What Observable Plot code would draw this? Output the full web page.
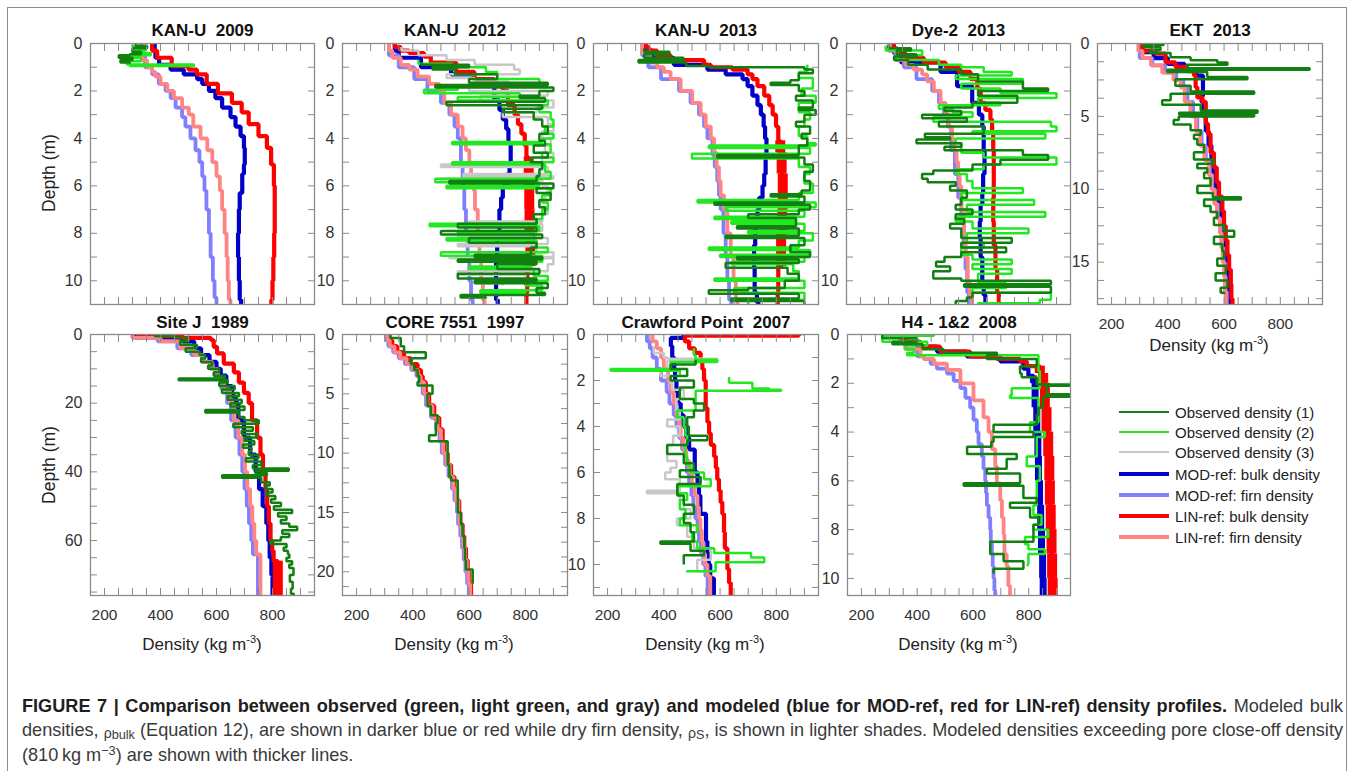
<!DOCTYPE html>
<html><head><meta charset="utf-8">
<script src="https://cdn.jsdelivr.net/npm/d3@7"></script>
<script src="https://cdn.jsdelivr.net/npm/@observablehq/plot@0.6"></script>
<style>
body{margin:0;background:#fff;font-family:"Liberation Sans",Arial,sans-serif;}
#root{position:relative;width:1360px;height:771px;overflow:hidden;background:#fff;}
.box{position:absolute;left:7px;top:7px;width:1338px;height:820px;border:1.5px solid #8c8c8c;}
.pnl{position:absolute;}
.ylab{position:absolute;font-size:17.5px;color:#222;transform:translate(-50%,-50%) rotate(-90deg);white-space:nowrap;}
.xlab{position:absolute;font-size:17px;color:#222;transform:translate(-50%,-50%);white-space:nowrap;}
.xlab sup{font-size:11px;vertical-align:7px;line-height:0;}
.leg{position:absolute;left:1119px;font-size:15px;color:#222;white-space:nowrap;}
.leg .ln{position:absolute;left:0;width:50px;}
.leg .tx{position:absolute;left:56px;transform:translateY(-50%);}
.cap{position:absolute;left:22px;font-size:16px;line-height:25px;color:#3a3a3a;white-space:nowrap;}
.cap b{color:#1e1e1e;}
.cap sub{font-size:0.7em;vertical-align:-0.25em;line-height:0;}
.cap sup{font-size:0.7em;vertical-align:0.45em;line-height:0;}
.rho{font-size:0.78em;vertical-align:-0.12em;}
</style></head>
<body><div id="root"><div class="box"></div></div>
<script>
// ---------------- data ----------------
const titles = ["KAN-U  2009","KAN-U  2012","KAN-U  2013","Dye-2  2013","EKT  2013","Site J  1989","CORE 7551  1997","Crawford Point  2007","H4 - 1&2  2008"];
const densityTicks = [200,250,300,350,400,450,500,550,600,650,700,750,800,850,900];
const densityLabels = [200,400,600,800];
const depthTicks11 = [0,1,2,3,4,5,6,7,8,9,10,11];
const depthLabels10 = [0,2,4,6,8,10];
const ektTicks = [0,1.25,2.5,3.75,5,6.25,7.5,8.75,10,11.25,12.5,13.75,15,16.25,17.5];
const ektLabels = [0,5,10,15];
const siteJTicks = [0,5,10,15,20,25,30,35,40,45,50,55,60,65,70,75];
const siteJLabels = [0,20,40,60];
const coreTicks = [0,1.25,2.5,3.75,5,6.25,7.5,8.75,10,11.25,12.5,13.75,15,16.25,17.5,18.75,20,21.25];
const coreLabels = [0,5,10,15,20];
const legendLabels = ["Observed density (1)","Observed density (2)","Observed density (3)","MOD-ref: bulk density","MOD-ref: firn density","LIN-ref: bulk density","LIN-ref: firn density"];

// each profile: [depth (m), density (kg m-3)] layer tops
const k09_modBulk = [[0,379],[0.3,382],[0.6,395],[0.9,436],[1.1,483],[1.3,531],[1.5,549],[1.7,573],[2.0,596],[2.3,620],[2.7,650],[3.1,668],[3.5,686],[3.9,698],[4.4,701],[5.1,698],[5.5,692],[6.3,683],[7.0,680],[8.0,677],[9.0,680],[10.0,683],[10.8,688]];
const k09_modFirn = [[0,330],[0.5,345],[1.0,370],[1.3,394],[1.7,418],[2.0,436],[2.3,454],[2.7,477],[3.1,489],[3.5,507],[4.0,525],[4.5,539],[5.0,549],[5.6,557],[6.2,564],[7.0,573],[8.0,579],[9.0,587],[10.0,593],[10.7,600]];
const k09_linBulk = [[0,370],[0.3,388],[0.6,440],[0.95,500],[1.1,530],[1.3,565],[1.7,605],[2.1,655],[2.5,690],[2.9,715],[3.4,750],[3.9,780],[4.4,795],[5.1,805],[6.0,808],[7.0,808],[8.0,806],[9.0,803],[10.0,800],[10.8,796]];
const k09_linFirn = [[0,328],[0.3,335],[0.7,352],[1.0,370],[1.2,382],[1.4,400],[1.7,424],[2.0,448],[2.3,477],[2.7,501],[3.0,517],[3.5,543],[4.0,567],[4.5,585],[5.0,600],[5.6,612],[6.2,620],[7.0,629],[8.0,636],[9.0,640],[10.0,644],[10.8,650]];
const k09_obs1 = [[0,311],[0.1,352],[0.2,300],[0.35,330],[0.45,290],[0.5,251],[0.6,300],[0.7,257],[0.8,290],[0.85,290]];
const k09_obs2 = [[0.05,300],[0.15,345],[0.3,300],[0.4,365],[0.5,270],[0.6,330],[0.75,280],[0.88,519],[0.95,290],[0.97,290]];

const k12_modBulk = [[0,336],[0.3,350],[0.6,429],[1.0,536],[1.3,619],[1.5,685],[1.8,690],[2.4,708],[2.8,720],[3.2,732],[3.6,740],[4.2,748],[5.0,744],[5.5,736],[6.0,720],[6.5,714],[7.0,708],[8.0,700],[9.0,696],[10.0,696],[10.8,702]];
const k12_modFirn = [[0,315],[0.5,350],[1.0,405],[1.5,452],[2.0,500],[2.5,530],[3.0,548],[3.5,560],[4.0,571],[5.0,577],[6.0,583],[7.0,589],[8.0,595],[9.0,601],[10.0,607],[10.8,613]];
const k12_linBulk = [[0,336],[0.15,357],[0.3,387],[0.4,440],[0.55,464],[0.8,554],[1.2,619],[1.5,690],[1.75,720],[2.0,738],[2.6,762],[3.0,774],[3.4,786],[3.8,798],[4.3,804],[4.8,812],[5.5,814],[7.0,815],[8.0,818],[9.4,807],[10.5,804]];
const k12_linFirn = [[0,315],[0.3,327],[0.6,357],[0.9,387],[1.1,417],[1.4,458],[1.7,494],[2.0,512],[2.5,536],[3.0,560],[3.5,577],[4.0,589],[4.5,601],[5.0,607],[5.6,617],[6.2,621],[7.0,631],[8.0,637],[9.0,643],[10.0,649],[10.8,655]];
const k12_obs1 = [[0.8,430],[0.9,600],[1.0,470],[1.1,550],[1.3,700],[1.5,600],[1.65,880],[1.75,480],[1.85,900],[2.0,850],[2.2,780],[2.3,870],[2.45,520],[2.6,860],[2.75,720],[2.9,830],[3.2,860],[3.5,880],[3.8,850],[4.1,870],[4.3,830],[4.6,880],[4.8,820],[5.0,860],[5.3,850],[5.6,840],[5.8,530],[5.9,900],[6.1,840],[6.3,890],[6.6,850],[6.9,870],[7.2,830],[7.4,840],[7.6,560],[7.75,840],[7.9,500],[8.05,860],[8.2,600],[8.4,840],[8.6,820],[8.9,620],[9.0,860],[9.1,560],[9.2,840],[9.3,700],[9.5,850],[9.7,560],[9.9,840],[10.0,620],[10.1,880],[10.3,840],[10.5,870],[10.6,570],[10.7,660],[10.75,660]];
const k12_obs2 = [[0.7,420],[0.85,540],[1.0,660],[1.2,700],[1.5,850],[1.7,800],[1.8,560],[1.95,440],[2.1,780],[2.25,560],[2.4,880],[2.6,850],[2.9,890],[3.2,900],[3.5,870],[3.8,900],[4.0,860],[4.15,540],[4.25,890],[4.6,860],[4.8,900],[5.0,540],[5.1,870],[5.4,890],[5.7,480],[5.85,850],[6.0,520],[6.1,890],[6.4,860],[6.7,880],[7.0,860],[7.4,840],[7.6,460],[7.7,850],[7.9,560],[8.0,830],[8.2,520],[8.3,840],[8.6,880],[8.8,500],[8.95,860],[9.2,820],[9.4,600],[9.5,830],[9.8,880],[10.0,800],[10.2,860],[10.4,640],[10.5,800],[10.6,800]];
const k12_obs3 = [[0.15,360],[0.3,420],[0.5,520],[0.7,620],[0.9,760],[1.1,780],[1.3,520],[1.45,620],[1.6,740],[1.8,600],[2.0,880],[2.2,640],[2.4,900],[2.7,840],[2.9,720],[3.1,880],[3.4,900],[3.7,860],[4.0,890],[4.3,870],[4.6,900],[4.8,860],[5.1,500],[5.2,880],[5.5,580],[5.6,900],[5.7,500],[5.75,860],[6.0,880],[6.3,870],[6.6,850],[6.9,880],[7.2,860],[7.5,600],[7.6,860],[7.9,840],[8.1,560],[8.2,880],[8.45,560],[8.55,840],[8.8,900],[9.0,530],[9.05,900],[9.3,880],[9.6,560],[9.75,800],[10.0,620],[10.1,720],[10.2,720]];

const k13_modBulk = [[0,335],[0.3,360],[0.6,436],[0.9,555],[1.1,620],[1.3,680],[1.5,698],[1.8,715],[2.2,733],[2.6,745],[3.0,755],[3.5,760],[4.0,765],[4.7,762],[5.5,757],[6.0,751],[6.5,739],[7.0,733],[7.7,725],[8.5,721],[9.5,723],[10.5,731],[10.9,736]];
const k13_modFirn = [[0,323],[0.5,345],[1.0,390],[1.5,454],[2.0,495],[2.5,525],[3.0,543],[3.5,555],[4.0,573],[4.7,581],[5.2,590],[5.8,596],[6.4,602],[7.0,612],[8.0,620],[9.0,626],[10.0,632],[10.8,640]];
const k13_linBulk = [[0,335],[0.15,346],[0.3,376],[0.5,424],[0.7,543],[0.9,567],[1.0,644],[1.1,698],[1.3,715],[1.5,733],[1.8,757],[2.2,775],[2.6,787],[3.0,799],[3.5,807],[4.1,814],[4.6,819],[5.5,823],[7.0,821],[8.0,817],[9.4,807],[10.5,805]];
const k13_linFirn = [[0,323],[0.4,352],[0.8,376],[1.0,400],[1.2,424],[1.5,460],[2.0,501],[2.5,531],[3.0,549],[3.5,567],[4.0,579],[4.6,588],[5.2,596],[5.8,602],[6.4,614],[7.0,626],[8.0,638],[9.0,648],[10.0,656],[10.8,662]];
const k13_obs1 = [[0.2,330],[0.35,420],[0.45,330],[0.6,470],[0.7,310],[0.8,480],[0.95,560],[1.0,900],[1.1,930],[1.25,880],[1.55,850],[1.65,780],[1.75,880],[2.0,900],[2.2,870],[2.4,930],[2.7,880],[2.8,940],[3.0,900],[3.3,870],[3.5,920],[3.8,890],[4.0,910],[4.3,880],[4.7,590],[4.8,900],[5.1,930],[5.4,900],[5.8,920],[6.2,890],[6.35,780],[6.45,900],[6.7,580],[6.8,920],[7.0,880],[7.2,700],[7.35,870],[7.7,660],[7.8,880],[8.1,620],[8.2,900],[8.5,850],[8.8,920],[9.0,660],[9.1,880],[9.25,620],[9.45,840],[9.7,880],[10.0,830],[10.3,700],[10.4,560],[10.55,880],[10.75,640],[10.85,900],[11.0,900]];
const k13_obs2 = [[0.9,910],[1.2,880],[1.45,930],[1.9,890],[2.2,940],[2.5,880],[2.9,920],[3.2,900],[3.5,880],[3.9,910],[4.2,940],[4.3,560],[4.4,920],[4.65,500],[4.85,880],[5.2,920],[5.5,900],[5.9,930],[6.3,880],[6.6,520],[6.7,940],[6.9,620],[7.05,900],[7.3,580],[7.4,870],[7.5,640],[7.6,900],[7.9,700],[8.0,930],[8.3,880],[8.6,560],[8.7,920],[8.9,600],[9.0,900],[9.2,640],[9.3,860],[9.6,880],[9.9,580],[10.0,900],[10.3,650],[10.5,900],[10.8,700],[11.0,700]];

const d2_modBulk = [[0,319],[0.4,345],[0.8,486],[1.2,545],[1.8,599],[2.5,623],[3.0,635],[3.5,640],[4.5,643],[5.5,638],[6.3,635],[6.8,629],[7.5,626],[8.2,629],[9.0,635],[10.0,640],[10.6,646]];
const d2_modFirn = [[0,301],[0.3,325],[0.7,355],[1.0,400],[1.5,456],[2.0,480],[2.5,498],[3.0,512],[3.5,524],[4.5,537],[5.5,549],[6.5,560],[7.5,569],[8.5,575],[9.5,581],[10.5,587]];
const d2_linBulk = [[0,319],[0.2,331],[0.4,361],[0.6,426],[0.8,504],[1.0,551],[1.2,593],[1.5,617],[1.9,629],[2.5,646],[2.8,664],[3.2,670],[3.8,674],[4.5,676],[5.5,676],[6.5,674],[7.5,676],[8.5,682],[9.5,688],[10.5,694]];
const d2_linFirn = [[0,301],[0.3,331],[0.7,361],[0.9,390],[1.1,420],[1.3,438],[1.6,462],[2.0,486],[2.5,504],[3.0,515],[3.5,527],[4.0,533],[4.5,543],[5.0,549],[5.5,554],[6.0,560],[7.0,569],[8.0,575],[9.0,583],[10.0,590],[10.6,599]];
const d2_obs1 = [[0.05,300],[0.2,380],[0.3,330],[0.45,400],[0.55,320],[0.7,370],[0.9,440],[1.1,560],[1.3,620],[1.6,780],[1.9,870],[2.0,620],[2.2,760],[2.5,600],[2.7,500],[2.85,560],[3.0,420],[3.15,580],[3.3,480],[3.5,640],[3.8,430],[3.95,520],[4.05,400],[4.2,560],[4.35,500],[4.5,780],[4.7,870],[4.9,700],[5.1,600],[5.35,460],[5.5,420],[5.7,440],[5.85,540],[6.0,520],[6.2,580],[6.5,560],[6.8,540],[7.0,600],[7.2,540],[7.4,570],[7.6,520],[7.8,560],[8.2,740],[8.4,560],[8.6,720],[8.8,560],[9.0,500],[9.2,470],[9.4,520],[9.6,460],[9.9,560],[10.0,880],[10.15,570],[10.25,880],[10.5,600],[10.7,580],[10.85,540],[11.0,540]];
const d2_obs2 = [[0.1,290],[0.3,420],[0.5,330],[0.7,480],[0.9,560],[1.0,640],[1.2,740],[1.35,540],[1.5,780],[1.7,560],[1.9,700],[2.1,900],[2.3,620],[2.5,700],[2.6,480],[2.75,530],[2.9,600],[3.1,460],[3.3,880],[3.5,900],[3.7,600],[3.8,860],[4.0,540],[4.2,560],[4.6,640],[4.8,900],[5.1,640],[5.3,540],[5.5,580],[5.8,600],[6.1,780],[6.3,560],[6.6,820],[6.8,580],[7.1,860],[7.3,540],[7.5,600],[7.8,800],[8.0,580],[8.4,640],[8.6,560],[8.9,600],[9.1,740],[9.3,600],[9.5,740],[9.7,620],[10.1,720],[10.3,600],[10.5,880],[10.8,840],[10.95,620],[11.0,620]];

const ekt_modBulk = [[0,310],[0.6,350],[1.0,400],[1.4,460],[1.8,500],[2.2,525],[3.6,520],[4.0,528],[5.0,535],[6.0,545],[7.0,555],[8.0,562],[9.0,570],[10,580],[11,588],[12,595],[13,600],[14,606],[15,610],[16,614],[17,618]];
const ekt_modFirn = [[0,300],[1.0,345],[1.5,390],[2.0,430],[2.5,455],[3.0,470],[4.0,490],[5.0,505],[6.0,520],[7.0,535],[8.0,548],[9.0,558],[10,568],[11,578],[12,588],[13,593],[14,598],[15,603],[16,606],[17,610]];
const ekt_linBulk = [[0,308],[0.5,356],[0.7,392],[1.3,427],[1.6,469],[1.9,493],[2.2,499],[3.0,505],[3.7,523],[4.0,535],[5.5,543],[6.2,552],[7.5,564],[8.5,574],[9.5,582],[10.5,594],[11.5,600],[12.5,606],[13.5,612],[14.5,618],[15.5,624],[16.5,626],[17.5,630]];
const ekt_linFirn = [[0,295],[0.5,310],[1.0,340],[1.5,380],[2.0,420],[2.5,445],[3.0,460],[4.0,480],[5.0,500],[6.0,515],[7.0,530],[8.0,545],[9.0,555],[10,565],[11,575],[12,585],[13,590],[14,595],[15,600],[16,603],[17,606]];
const ekt_obs1 = [[0,385],[0.1,314],[0.25,374],[0.45,338],[0.65,410],[0.95,481],[1.15,576],[1.3,612],[1.45,469],[1.7,904],[1.8,398],[1.95,540],[2.3,683],[2.45,427],[2.9,481],[3.3,707],[3.45,410],[3.9,380],[4.2,517],[4.6,719],[4.75,440],[4.85,707],[5.0,439],[5.25,421],[5.55,481],[5.95,517],[6.25,493],[6.55,505],[6.95,529],[7.45,493],[7.95,564],[8.25,505],[8.55,540],[8.85,529],[9.25,552],[9.75,505],[10.25,560],[10.55,660],[10.7,529],[11.15,552],[11.55,576],[11.95,564],[12.45,600],[12.85,636],[13.25,564],[13.75,594],[14.25,600],[14.75,576],[15.25,606],[15.75,570],[16.25,612],[16.75,588],[17.1,600],[17.2,600]];

const sj_modBulk = [[0,310],[1,480],[2,520],[4,545],[6,575],[8,600],[10,615],[12,635],[15,655],[18,668],[20,678],[25,698],[30,720],[35,740],[40,752],[45,765],[50,778],[55,785],[60,790],[65,796],[70,800]];
const sj_modFirn = [[0,300],[1,390],[2,460],[4,510],[6,548],[8,578],[10,598],[13,618],[16,638],[20,652],[25,668],[30,682],[35,692],[40,700],[45,708],[50,716],[55,724],[60,730],[64,748]];
const sj_linBulk = [[0,320],[0.5,480],[1.0,580],[1.6,590],[3.6,602],[5.5,626],[8.5,662],[11,680],[14,698],[17,715],[20,727],[25,745],[30,757],[35,766],[40,775],[45,781],[50,787],[55,793],[60,799],[63,804],[66,819]];
const sj_linFirn = [[0,300],[1,400],[2,470],[4,520],[6,555],[8,585],[10,605],[13,628],[16,648],[20,662],[25,678],[30,692],[35,702],[40,710],[45,720],[50,728],[55,735],[60,742],[64,757]];
const sj_obs1 = [[0,380],[0.5,450],[1,500],[2,470],[3,530],[4,490],[5,540],[6,560],[7,545],[8,585],[9,570],[10,610],[11,590],[12,630],[12.8,465],[13.3,640],[14,610],[15,665],[16,620],[17,680],[18,640],[19,690],[20,650],[21,700],[22,560],[22.7,680],[24,700],[25,751],[26,660],[27,730],[28,690],[29,745],[30,700],[31,735],[32,695],[33,725],[34,715],[35,750],[36,705],[37,760],[38,730],[39,858],[39.7,740],[40.5,780],[41,620],[41.7,760],[43,790],[44,775],[45,800],[46,780],[47,810],[48,795],[49,830],[50,805],[51,870],[52,820],[53,850],[54,830],[55,860],[56,888],[57,835],[58,860],[59,830],[60,793],[61,850],[62,840],[63,855],[64,860],[65,850],[66,870],[67,860],[68,875],[70,862],[72,872],[74,866],[75.5,876],[76,876]];

const c97_modBulk = [[0,312],[0.5,322],[1.0,340],[1.5,364],[2.0,388],[2.5,412],[3.0,425],[3.5,432],[4.0,442],[5.0,455],[6.0,472],[7.0,490],[8.0,503],[9.0,509],[10,521],[11,533],[12,545],[13,554],[14,562],[15,566],[16,574],[17,580],[18,586],[19,592],[20,598],[21,604]];
const c97_modFirn = [[0,305],[0.5,313],[1.0,330],[1.5,350],[2.0,372],[2.5,395],[3.0,413],[3.5,423],[4.0,435],[5.0,447],[6.0,465],[7.0,483],[8.0,495],[9.0,503],[10,515],[11,527],[12,539],[13,548],[14,557],[15,561],[16,569],[17,575],[18,581],[19,587],[20,593],[21,599]];
const c97_linBulk = [[0,315],[0.5,327],[1.0,345],[1.5,369],[2.0,393],[2.5,417],[3.0,429],[3.5,435],[4.0,446],[5.0,458],[6.0,476],[7.0,494],[8.0,506],[9.0,512],[10,524],[11,536],[12,548],[13,557],[14,565],[15,569],[16,577],[17,583],[18,589],[19,595],[20,601],[21,607]];
const c97_linFirn = [[0,310],[0.5,318],[1.0,335],[1.5,355],[2.0,378],[2.5,400],[3.0,418],[3.5,428],[4.0,440],[5.0,452],[6.0,470],[7.0,488],[8.0,500],[9.0,508],[10,520],[11,532],[12,544],[13,553],[14,562],[15,566],[16,574],[17,580],[18,586],[19,592],[20,598],[21,604]];
const c97_obs1 = [[0,321],[0.3,357],[1.0,369],[1.5,446],[2.0,393],[2.5,405],[3.0,417],[3.5,423],[4.0,417],[4.3,470],[5.0,452],[6.0,464],[6.8,488],[7.5,482],[8.5,458],[9.0,524],[10,524],[11,530],[12,536],[12.3,560],[13.5,560],[15,571],[16,577],[17,583],[18,586],[19,589],[19.8,613],[21.0,613]];

const cp_modBulk = [[0,470],[0.15,425],[0.5,430],[1.0,437],[1.5,440],[2.0,445],[2.5,450],[3.0,460],[3.5,470],[4.0,480],[4.5,490],[5.0,510],[6.0,520],[6.5,525],[7.0,530],[7.8,550],[9.0,555],[9.5,560],[10.0,565],[10.6,578]];
const cp_modFirn = [[0,340],[0.3,350],[0.6,360],[1.0,375],[1.5,390],[2.0,410],[2.5,420],[3.0,435],[3.5,445],[4.0,455],[4.5,465],[5.0,475],[5.5,482],[6.0,490],[6.5,498],[7.0,505],[7.5,512],[8.0,520],[8.5,525],[9.0,532],[9.5,540],[10.0,548],[10.5,556]];
const cp_linBulk = [[0,880],[0.05,475],[0.3,490],[0.6,510],[0.8,531],[1.2,537],[1.5,543],[2.0,549],[3.2,555],[3.8,561],[4.3,567],[4.8,579],[5.3,585],[5.8,590],[6.3,596],[6.8,602],[7.3,608],[7.8,614],[8.6,617],[9.3,626],[10.2,632],[10.8,638]];
const cp_linFirn = [[0,360],[0.3,375],[0.6,390],[1.0,400],[1.5,415],[2.0,425],[2.5,435],[3.0,445],[3.5,455],[4.0,460],[4.5,470],[5.0,480],[5.5,490],[6.0,500],[6.5,510],[7.0,520],[7.5,525],[8.0,530],[8.5,535],[9.0,540],[9.5,545],[10.0,555],[10.5,565]];
const cp_obs1 = [[1.1,513],[1.3,424],[1.5,483],[1.8,424],[2.0,507],[2.3,457],[2.8,507],[3.0,543],[3.3,507],[3.6,483],[4.0,489],[4.4,555],[4.6,483],[4.8,412],[5.2,471],[5.6,507],[5.9,457],[6.2,531],[6.5,448],[7.0,471],[7.4,507],[7.8,471],[8.2,495],[8.6,507],[9.0,388],[9.1,495],[9.4,543],[9.6,471],[10.0,471]];
const cp_obs2 = [[0.6,507],[0.9,513],[1.1,590],[1.2,424],[1.5,211],[1.58,457],[1.75,457],[1.76,null],[1.85,632],[2.1,715],[2.35,775],[2.4,817],[2.45,513],[3.3,448],[3.6,471],[4.0,477],[4.4,483],[4.8,477],[5.3,483],[5.7,495],[6.0,543],[6.3,567],[6.6,448],[6.9,483],[7.2,457],[7.6,477],[8.0,457],[8.3,519],[8.6,501],[9.0,519],[9.3,579],[9.5,710],[9.7,757],[9.9,584],[10.3,483],[10.35,483]];
const cp_obs3 = [[0.5,364],[0.8,400],[1.0,412],[1.05,590],[1.15,412],[1.5,388],[1.8,424],[2.1,430],[2.4,471],[2.8,445],[3.3,457],[3.7,412],[4.0,457],[4.4,433],[4.8,412],[5.2,412],[5.5,445],[5.8,424],[6.0,405],[6.3,457],[6.8,340],[6.9,457],[7.2,471],[7.6,495],[8.0,447],[8.3,483],[8.8,507],[9.3,567],[9.8,519],[10.3,555],[10.35,555]];

const h4_modBulk = [[0,346],[0.3,400],[0.5,471],[0.7,578],[0.9,698],[1.1,781],[1.4,799],[1.7,817],[2.0,823],[3.0,829],[4.0,833],[5.0,835],[6.0,839],[7.0,843],[8.0,846],[9.0,850],[10.0,852]];
const h4_modFirn = [[0,340],[0.3,358],[0.6,400],[0.9,424],[1.0,448],[1.2,471],[1.4,507],[1.6,531],[1.9,555],[2.2,573],[2.6,590],[3.0,602],[3.5,614],[4.0,620],[4.5,632],[5.0,638],[5.5,644],[6.0,647],[6.5,650],[7.0,656],[7.5,662],[8.0,664],[8.5,668],[9.0,671],[9.5,674],[10.0,677],[10.5,680]];
const h4_linBulk = [[0,346],[0.1,358],[0.3,412],[0.5,483],[0.7,590],[0.9,686],[1.0,769],[1.1,793],[1.3,840],[1.6,852],[2.0,858],[3.0,864],[4.0,870],[5.0,874],[6.0,876],[7.0,879],[8.0,882],[9.0,884],[10.0,886]];
const h4_linFirn = [[0,340],[0.3,358],[0.6,412],[0.9,424],[1.0,460],[1.2,507],[1.45,555],[2.0,602],[2.7,638],[3.4,656],[4.0,668],[4.7,680],[5.4,686],[6.1,698],[6.8,704],[7.5,710],[8.2,713],[9.0,721],[9.5,727],[10.3,733]];
const h4_obs1 = [[0,275],[0.15,400],[0.3,311],[0.4,420],[0.6,495],[0.75,686],[0.85,650],[1.0,829],[1.3,769],[1.6,775],[1.75,829],[2.05,960],[2.1,864],[2.45,960],[2.55,852],[3.0,835],[3.3,829],[3.7,674],[4.0,817],[4.2,674],[4.4,666],[4.6,579],[4.9,757],[5.1,721],[5.5,650],[5.7,769],[6.1,567],[6.2,781],[6.7,829],[6.9,733],[7.1,805],[7.5,835],[7.8,817],[8.5,662],[9.0,710],[9.3,781],[9.6,674],[9.8,674]];
const h4_obs2 = [[0,460],[0.05,275],[0.3,436],[0.45,358],[0.6,388],[0.75,364],[0.85,835],[1.5,840],[2.2,739],[2.5,733],[2.6,835],[3.6,805],[4.0,858],[4.2,829],[5.0,793],[5.4,840],[6.0,829],[7.0,817],[7.4,846],[7.8,817],[8.0,870],[8.3,787],[8.6,799],[8.8,858],[9.0,799],[9.4,797],[9.5,797]];

// ---------------- styles ----------------
const C = {obs1:"#118011", obs2:"#22e822", obs3:"#c8c8c8", modBulk:"#0000c8", modFirn:"#8080ff", linBulk:"#ff0000", linFirn:"#ff8585"};
const AX = "#8a8a8a", TXT = "#333";

const panels = [
 {t:0, x:90,  y:43, w:224, h:261, yMax:11, yT:depthTicks11, yL:depthLabels10, xl:false, m:[k09_modBulk,k09_modFirn,k09_linBulk,k09_linFirn], o:[k09_obs1,k09_obs2,null]},
 {t:1, x:342, y:43, w:225, h:261, yMax:11, yT:depthTicks11, yL:depthLabels10, xl:false, m:[k12_modBulk,k12_modFirn,k12_linBulk,k12_linFirn], o:[k12_obs1,k12_obs2,k12_obs3]},
 {t:2, x:593, y:43, w:225, h:261, yMax:11, yT:depthTicks11, yL:depthLabels10, xl:false, m:[k13_modBulk,k13_modFirn,k13_linBulk,k13_linFirn], o:[k13_obs1,k13_obs2,null]},
 {t:3, x:846, y:43, w:224, h:261, yMax:11, yT:depthTicks11, yL:depthLabels10, xl:false, m:[d2_modBulk,d2_modFirn,d2_linBulk,d2_linFirn], o:[d2_obs1,d2_obs2,null]},
 {t:4, x:1097,y:43, w:225, h:261, yMax:17.9, yT:ektTicks, yL:ektLabels, xl:true, m:[ekt_modBulk,ekt_modFirn,ekt_linBulk,ekt_linFirn], o:[ekt_obs1,null,null]},
 {t:5, x:90,  y:334,w:224, h:261, yMax:76, yT:siteJTicks, yL:siteJLabels, xl:true, m:[sj_modBulk,sj_modFirn,sj_linBulk,sj_linFirn], o:[sj_obs1,null,null]},
 {t:6, x:342, y:334,w:225, h:261, yMax:22, yT:coreTicks, yL:coreLabels, xl:true, m:[c97_modBulk,c97_modFirn,c97_linBulk,c97_linFirn], o:[c97_obs1,null,null]},
 {t:7, x:593, y:334,w:225, h:261, yMax:11.35, yT:depthTicks11, yL:depthLabels10, xl:true, m:[cp_modBulk,cp_modFirn,cp_linBulk,cp_linFirn], o:[cp_obs1,cp_obs2,cp_obs3]},
 {t:8, x:847, y:334,w:223, h:261, yMax:10.7, yT:depthTicks11.slice(0,11), yL:depthLabels10, xl:true, m:[h4_modBulk,h4_modFirn,h4_linBulk,h4_linFirn], o:[h4_obs1,h4_obs2,null]}
];

const root = document.getElementById("root");
const ml=46, mr=14, mt=40, mb=66;

function renderPanel(p){
  const marks = [];
  const mstyle = [[C.modBulk,4.2,7],[C.modFirn,3.8,0],[C.linBulk,4.2,10],[C.linFirn,3.8,0]];
  p.m.forEach((arr,i)=>{
    const [color,sw,tw] = mstyle[i];
    const pts = arr.map(([d,r])=>({d,r}));
    pts.push({d:p.yMax, r:arr[arr.length-1][1]});
    marks.push(Plot.line(pts,{x:"r",y:"d",curve:"step-before",stroke:color,strokeWidth:sw,strokeLinejoin:"miter",strokeLinecap:"butt",clip:true}));
    if (tw){
      const thick=[];
      for(let k=0;k<pts.length-1;k++) if(pts[k].r>810) thick.push({r:pts[k].r,d0:pts[k].d,d1:pts[k+1].d});
      if(thick.length) marks.push(Plot.ruleX(thick,{x:"r",y1:"d0",y2:"d1",stroke:color,strokeWidth:tw,clip:true}));
    }
  });
  const ocol=[C.obs1,C.obs2,C.obs3];
  [2,1,0].forEach(i=>{
    const arr=p.o[i]; if(!arr) return;
    const pts=arr.map(([d,r])=>({d,r}));
    marks.push(Plot.line(pts,{x:"r",y:"d",curve:"step-before",stroke:ocol[i],strokeWidth:2.5,strokeLinejoin:"miter",strokeLinecap:"butt",clip:true}));
  });
  marks.push(
    Plot.axisY(p.yT,{anchor:"left",tickSize:-7,fill:"none",stroke:AX,label:null}),
    Plot.axisY(p.yT,{anchor:"right",tickSize:-7,fill:"none",stroke:AX,label:null}),
    Plot.axisY(p.yL,{anchor:"left",tickSize:0,tickPadding:8,fontSize:16,fill:TXT,label:null}),
    Plot.axisX(densityTicks,{anchor:"bottom",tickSize:-7,fill:"none",stroke:AX,label:null}),
    Plot.axisX(densityTicks,{anchor:"top",tickSize:-7,fill:"none",stroke:AX,label:null}),
    Plot.frame({stroke:AX,strokeWidth:1.3}),
    Plot.text([titles[p.t].replace(/  /g,"\u00a0\u00a0")],{frameAnchor:"top",lineAnchor:"middle",dy:p.y<100?-13:-12,fontSize:17,fontWeight:"bold",fill:"#111",text:d=>d})
  );
  if(p.xl) marks.push(Plot.axisX(densityLabels,{anchor:"bottom",tickSize:0,tickPadding:13,fontSize:15.5,fill:TXT,label:null}));
  const svg = Plot.plot({
    width:p.w+ml+mr, height:p.h+mt+mb, marginLeft:ml, marginRight:mr, marginTop:mt, marginBottom:mb,
    x:{domain:[150,950]}, y:{domain:[0,p.yMax], reverse:true},
    style:{background:"transparent",overflow:"visible",fontFamily:"'Liberation Sans',Arial,sans-serif"},
    marks
  });
  const div=document.createElement("div");
  div.className="pnl"; div.style.left=(p.x-ml)+"px"; div.style.top=(p.y-mt)+"px";
  div.appendChild(svg); root.appendChild(div);
}
panels.forEach(renderPanel);

function addHTML(cls, html, x, y){
  const d=document.createElement("div"); d.className=cls; d.innerHTML=html;
  d.style.left=x+"px"; d.style.top=y+"px"; root.appendChild(d); return d;
}
addHTML("ylab","Depth (m)",49,173);
addHTML("ylab","Depth (m)",49,465);
const dens = "Density (kg m<sup>-3</sup>)";
[[202,645],[454,645],[705,645],[958,645],[1209,346]].forEach(([x,y])=>addHTML("xlab",dens,x,y));

// legend
const legStyle=[[C.obs1,2.5],[C.obs2,2.5],[C.obs3,2.5],[C.modBulk,4.2],[C.modFirn,3.5],[C.linBulk,4.2],[C.linFirn,3.5]];
const legY=[412,432,452,474,495,516,537];
legendLabels.forEach((lab,i)=>{
  const d=document.createElement("div"); d.className="leg"; d.style.top=legY[i]+"px";
  d.innerHTML=`<div class="ln" style="background:${legStyle[i][0]};height:${legStyle[i][1]}px;top:${-legStyle[i][1]/2}px"></div><div class="tx">${lab}</div>`;
  root.appendChild(d);
});

// caption
const capLines = [
 "<b>FIGURE 7 | Comparison between observed (green, light green, and gray) and modeled (blue for MOD-ref, red for LIN-ref) density profiles.</b> Modeled bulk",
 "densities, <span class='rho'>ρ</span><sub>bulk</sub> (Equation 12), are shown in darker blue or red while dry firn density, <span class='rho'>ρ</span><sub>S</sub>, is shown in lighter shades. Modeled densities exceeding pore close-off density",
 "(810&thinsp;kg m<sup>−3</sup>) are shown with thicker lines."
];
const capTop=[694,718,743];
const target=1321;
const capDivs = capLines.map((h,i)=>addHTML("cap","<span>"+h+"</span>",22,capTop[i]));
const w0 = capDivs[0].firstChild.getBoundingClientRect().width;
const w1 = capDivs[1].firstChild.getBoundingClientRect().width;
const fs = 16*target/Math.max(w0,w1);
capDivs.forEach(d=>{d.style.fontSize=fs+"px";});
capDivs.slice(0,2).forEach(d=>{
  const sp=d.firstChild; const w=sp.getBoundingClientRect().width;
  const n=(sp.textContent.match(/ /g)||[]).length;
  if(w<target) sp.style.wordSpacing=((target-w)/n)+"px";
});
</script>
</body></html>
